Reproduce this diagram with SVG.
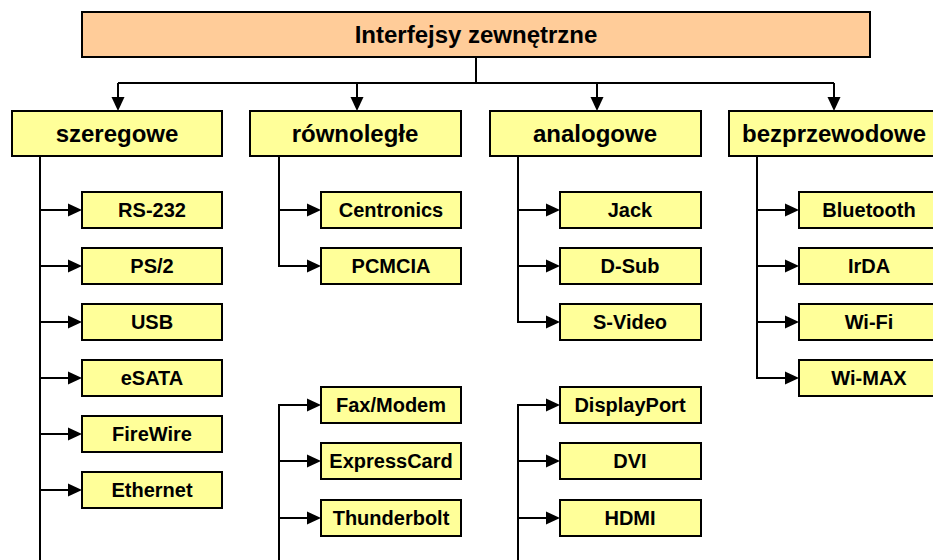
<svg xmlns="http://www.w3.org/2000/svg" width="933" height="560" viewBox="0 0 933 560">
<defs>
<style>
.root{fill:#FFCC99;stroke:#000;stroke-width:2}
.box{fill:#FFFF99;stroke:#000;stroke-width:2}
.t{font-family:"Liberation Sans",Arial,sans-serif;font-weight:bold;text-anchor:middle;fill:#000}
.big{font-size:24px}
.sm{font-size:20px}
.c{fill:none;stroke:#000;stroke-width:2}
</style>
<marker id="ah" markerWidth="14" markerHeight="14" refX="6" refY="7" orient="auto" markerUnits="userSpaceOnUse">
<path d="M0,0.5 L14,7 L0,13.5 z" fill="#000"/>
</marker>
</defs>
<rect width="933" height="560" fill="#fff"/>
<g id="connectors">
<path class="c" d="M476,57 V83 M118,83 H834"/>
<path class="c" d="M118,83 V103" marker-end="url(#ah)"/>
<path class="c" d="M357,83 V103" marker-end="url(#ah)"/>
<path class="c" d="M597,83 V103" marker-end="url(#ah)"/>
<path class="c" d="M834,83 V103" marker-end="url(#ah)"/>
<path class="c" d="M40,156 V560"/>
<path class="c" d="M40,210 H74" marker-end="url(#ah)"/>
<path class="c" d="M40,266 H74" marker-end="url(#ah)"/>
<path class="c" d="M40,322 H74" marker-end="url(#ah)"/>
<path class="c" d="M40,378 H74" marker-end="url(#ah)"/>
<path class="c" d="M40,434 H74" marker-end="url(#ah)"/>
<path class="c" d="M40,490 H74" marker-end="url(#ah)"/>
<path class="c" d="M279,156 V266"/>
<path class="c" d="M279,210 H313" marker-end="url(#ah)"/>
<path class="c" d="M278,266 H313" marker-end="url(#ah)"/>
<path class="c" d="M279,560 V405"/>
<path class="c" d="M278,405 H313" marker-end="url(#ah)"/>
<path class="c" d="M279,461 H313" marker-end="url(#ah)"/>
<path class="c" d="M279,518 H313" marker-end="url(#ah)"/>
<path class="c" d="M518,156 V322"/>
<path class="c" d="M518,210 H552" marker-end="url(#ah)"/>
<path class="c" d="M518,266 H552" marker-end="url(#ah)"/>
<path class="c" d="M517,322 H552" marker-end="url(#ah)"/>
<path class="c" d="M518,560 V405"/>
<path class="c" d="M517,405 H552" marker-end="url(#ah)"/>
<path class="c" d="M518,461 H552" marker-end="url(#ah)"/>
<path class="c" d="M518,518 H552" marker-end="url(#ah)"/>
<path class="c" d="M757,156 V378"/>
<path class="c" d="M757,210 H791" marker-end="url(#ah)"/>
<path class="c" d="M757,266 H791" marker-end="url(#ah)"/>
<path class="c" d="M757,322 H791" marker-end="url(#ah)"/>
<path class="c" d="M756,378 H791" marker-end="url(#ah)"/>
</g>
<g id="root"><rect class="root" x="82" y="12" width="788" height="45"/><text class="t big" x="476" y="43">Interfejsy zewnętrzne</text></g>
<g id="szeregowe"><rect class="box" x="12" y="111" width="210" height="45"/><text class="t big" x="117" y="142">szeregowe</text></g>
<g id="rownolegle"><rect class="box" x="250" y="111" width="211" height="45"/><text class="t big" x="355" y="142">równoległe</text></g>
<g id="analogowe"><rect class="box" x="490" y="111" width="211" height="45"/><text class="t big" x="595" y="142">analogowe</text></g>
<g id="bezprzewodowe"><rect class="box" x="729" y="111" width="210" height="45"/><text class="t big" x="834" y="142">bezprzewodowe</text></g>

<g id="rs232"><rect class="box" x="82" y="192" width="140" height="36"/><text class="t sm" x="152" y="217">RS-232</text></g>
<g id="ps2"><rect class="box" x="82" y="248" width="140" height="36"/><text class="t sm" x="152" y="273">PS/2</text></g>
<g id="usb"><rect class="box" x="82" y="304" width="140" height="36"/><text class="t sm" x="152" y="329">USB</text></g>
<g id="esata"><rect class="box" x="82" y="360" width="140" height="36"/><text class="t sm" x="152" y="385">eSATA</text></g>
<g id="firewire"><rect class="box" x="82" y="416" width="140" height="36"/><text class="t sm" x="152" y="441">FireWire</text></g>
<g id="ethernet"><rect class="box" x="82" y="472" width="140" height="36"/><text class="t sm" x="152" y="497">Ethernet</text></g>

<g id="centronics"><rect class="box" x="321" y="192" width="140" height="36"/><text class="t sm" x="391" y="217">Centronics</text></g>
<g id="pcmcia"><rect class="box" x="321" y="248" width="140" height="36"/><text class="t sm" x="391" y="273">PCMCIA</text></g>
<g id="faxmodem"><rect class="box" x="321" y="387" width="140" height="36"/><text class="t sm" x="391" y="412">Fax/Modem</text></g>
<g id="expresscard"><rect class="box" x="321" y="443" width="140" height="36"/><text class="t sm" x="391" y="468">ExpressCard</text></g>
<g id="thunderbolt"><rect class="box" x="321" y="500" width="140" height="36"/><text class="t sm" x="391" y="525">Thunderbolt</text></g>

<g id="jack"><rect class="box" x="560" y="192" width="141" height="36"/><text class="t sm" x="630" y="217">Jack</text></g>
<g id="dsub"><rect class="box" x="560" y="248" width="141" height="36"/><text class="t sm" x="630" y="273">D-Sub</text></g>
<g id="svideo"><rect class="box" x="560" y="304" width="141" height="36"/><text class="t sm" x="630" y="329">S-Video</text></g>
<g id="displayport"><rect class="box" x="560" y="387" width="141" height="36"/><text class="t sm" x="630" y="412">DisplayPort</text></g>
<g id="dvi"><rect class="box" x="560" y="443" width="141" height="36"/><text class="t sm" x="630" y="468">DVI</text></g>
<g id="hdmi"><rect class="box" x="560" y="500" width="141" height="36"/><text class="t sm" x="630" y="525">HDMI</text></g>

<g id="bluetooth"><rect class="box" x="799" y="192" width="140" height="36"/><text class="t sm" x="869" y="217">Bluetooth</text></g>
<g id="irda"><rect class="box" x="799" y="248" width="140" height="36"/><text class="t sm" x="869" y="273">IrDA</text></g>
<g id="wifi"><rect class="box" x="799" y="304" width="140" height="36"/><text class="t sm" x="869" y="329">Wi-Fi</text></g>
<g id="wimax"><rect class="box" x="799" y="360" width="140" height="36"/><text class="t sm" x="869" y="385">Wi-MAX</text></g>
</svg>
